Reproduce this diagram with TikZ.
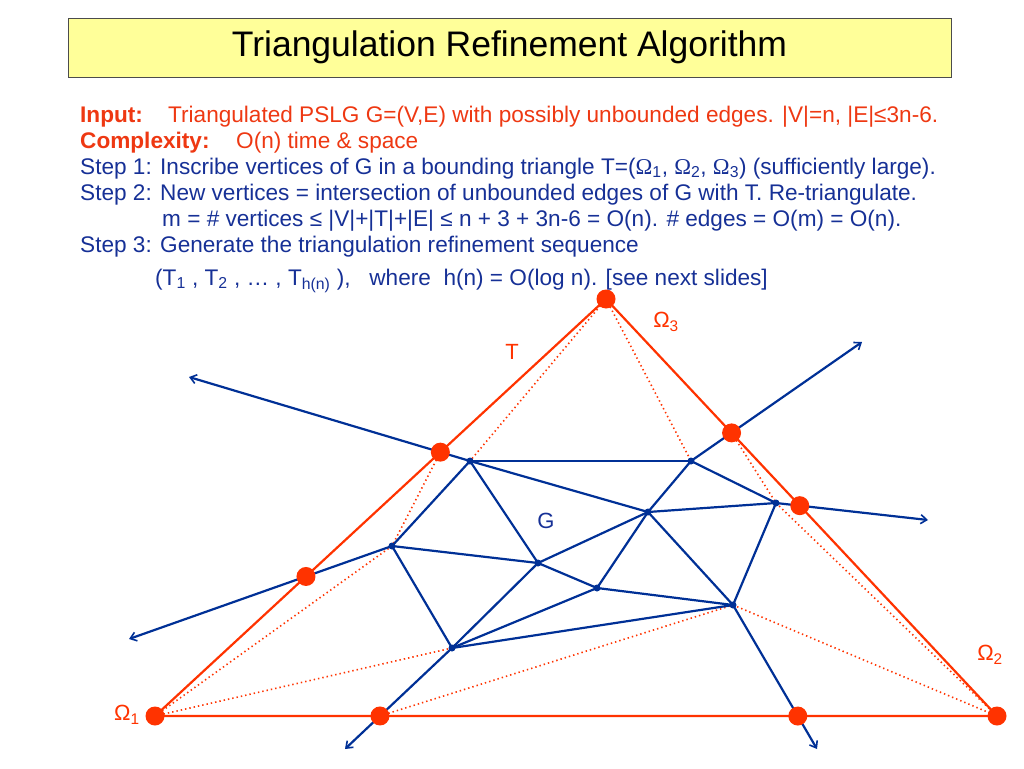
\documentclass[tikz,border=0pt]{standalone}
\usepackage{fontspec}
\setmainfont{Liberation Sans}
\newfontfamily\symfont{Liberation Serif}
\usetikzlibrary{arrows.meta}
\definecolor{tred}{RGB}{255,51,0}
\definecolor{tblue}{RGB}{0,48,150}
\definecolor{txtred}{RGB}{238,56,18}
\definecolor{txtblue}{RGB}{22,48,150}
\definecolor{titlebg}{RGB}{255,255,153}
\begin{document}
\begin{tikzpicture}[x=1pt,y=-1pt,
  body/.style={anchor=base west,inner sep=0pt,font=\fontsize{22.6}{26}\selectfont},
  side/.style={draw=tred,line width=2.2pt},
  dots/.style={draw=tred,line width=1.6pt,dash pattern=on 1.4pt off 3pt},
  edge/.style={draw=tblue,line width=2.2pt},
  ray/.style={draw=tblue,line width=2.2pt,-{Straight Barb[length=6pt,width=9pt,line width=1.6pt]}},
  bigdot/.style={circle,fill=tred,inner sep=0pt,minimum size=19pt},
  smalldot/.style={circle,fill=tblue,inner sep=0pt,minimum size=7pt},
  lab/.style={inner sep=0pt,font=\fontsize{22}{26}\selectfont}]
\useasboundingbox (0,0) rectangle (1024,768);
% title
\node[draw=black!70,line width=0.8pt,fill=titlebg,minimum width=883pt,minimum height=59pt,inner sep=0pt,
  font=\fontsize{35.5}{40}\selectfont] (title) at (509.5,47.5) {Triangulation Refinement Algorithm};
% text
\node[body,text=txtred] (in1) at (80,122) {\textbf{Input:}};
\node[body,text=txtred] (in2) at (168,122) {Triangulated PSLG G=(V,E) with possibly unbounded edges. |V|=n, |E|≤3n-6.};
\node[body,text=txtred] (co1) at (80,148) {\textbf{Complexity:}};
\node[body,text=txtred] (co2) at (236,148) {O(n) time \& space};
\node[body,text=txtblue] (s1) at (80,174) {Step 1: Inscribe vertices of G in a bounding triangle T=({\symfont Ω}\textsubscript{1}, {\symfont Ω}\textsubscript{2}, {\symfont Ω}\textsubscript{3}) (sufficiently large).};
\node[body,text=txtblue] (s2) at (80,200) {Step 2: New vertices = intersection of unbounded edges of G with T. Re-triangulate.};
\node[body,text=txtblue] (s2b) at (162,226) {m = \# vertices ≤ |V|+|T|+|E| ≤ n + 3 + 3n-6 = O(n). \# edges = O(m) = O(n).};
\node[body,text=txtblue] (s3) at (80,252) {Step 3: Generate the triangulation refinement sequence};
\node[body,text=txtblue] (s3b) at (155,285) {(T\textsubscript{1} , T\textsubscript{2} , … , T\textsubscript{h(n)} ),\ \ \ where\ \ h(n) = O(log n). [see next slides]};
% triangle vertices
\coordinate (O1) at (155,716);
\coordinate (O2) at (997,716);
\coordinate (O3) at (606,299);
% graph vertices
\coordinate (v1) at (470,461);
\coordinate (v2) at (691,461);
\coordinate (v3) at (392,546);
\coordinate (v4) at (538,563);
\coordinate (v5) at (648,512);
\coordinate (v6) at (776,503);
\coordinate (v7) at (597,588);
\coordinate (v8) at (733,605);
\coordinate (v9) at (452,648);
% ray ends
\coordinate (e1) at (189,377);
\coordinate (e2) at (862,342);
\coordinate (e3) at (928,520);
\coordinate (e4) at (129,639);
\coordinate (e5) at (345,749);
\coordinate (e6) at (817,749);
% new vertices on T
\coordinate (A) at (intersection of v1--e1 and O1--O3);
\coordinate (B) at (intersection of v3--e4 and O1--O3);
\coordinate (C) at (intersection of v2--e2 and O3--O2);
\coordinate (D) at (intersection of v6--e3 and O3--O2);
\coordinate (E) at (intersection of v9--e5 and O1--O2);
\coordinate (F) at (intersection of v8--e6 and O1--O2);
% dotted re-triangulation edges
\draw[dots] (O3) -- (v1);
\draw[dots] (O3) -- (v2);
\draw[dots] (A) -- (v3);
\draw[dots] (O1) -- (v3);
\draw[dots] (O1) -- (v9);
\draw[dots] (E) -- (v8);
\draw[dots] (v8) -- (O2);
\draw[dots] (v6) -- (O2);
\draw[dots] (C) -- (v6);
% bounding triangle
\draw[side,line join=round] (O1) -- (O3) -- (O2) -- cycle;
% graph edges
\foreach \a/\b in {v1/v2,v1/v3,v1/v4,v1/v5,v2/v5,v2/v6,v3/v4,v3/v9,v4/v9,v4/v5,v4/v7,v5/v6,v5/v7,v5/v8,v6/v8,v7/v8,v7/v9,v8/v9}
  \draw[edge] (\a) -- (\b);
% unbounded edges
\draw[ray] (v1) -- (e1);
\draw[ray] (v2) -- (e2);
\draw[ray] (v6) -- (e3);
\draw[ray] (v3) -- (e4);
\draw[ray] (v9) -- (e5);
\draw[ray] (v8) -- (e6);
% dots
\foreach \p in {O1,O2,O3,A,B,C,D,E,F}
  \node[bigdot] (d\p) at (\p) {};
\foreach \p in {v1,v2,v3,v4,v5,v6,v7,v8,v9}
  \node[smalldot] (d\p) at (\p) {};
% labels
\node[lab,text=tred] (l3) at (666,322) {Ω\textsubscript{3}};
\node[lab,text=tred] (lT) at (512,352) {T};
\node[lab,text=txtblue] (lG) at (546,521) {G};
\node[lab,text=tred] (l2) at (990,655) {Ω\textsubscript{2}};
\node[lab,text=tred] (l1) at (127,715) {Ω\textsubscript{1}};
\end{tikzpicture}
\end{document}
